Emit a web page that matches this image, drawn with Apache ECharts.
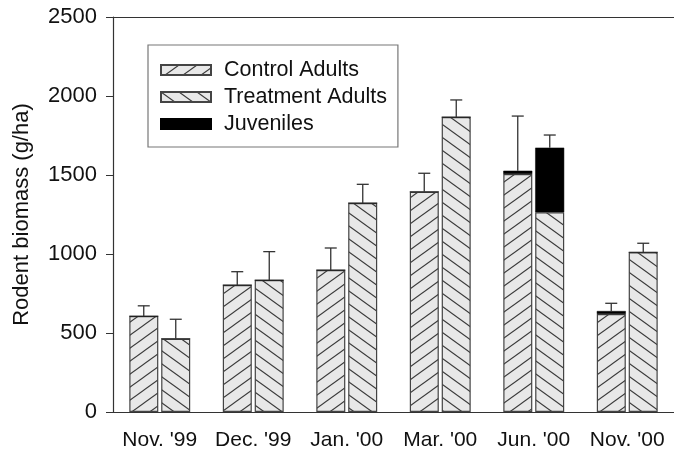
<!DOCTYPE html>
<html>
<head>
<meta charset="utf-8">
<script src="https://cdn.jsdelivr.net/npm/echarts@6/dist/echarts.min.js"></script>
<style>
html,body{margin:0;padding:0;background:#fff;}
#chart{width:674px;height:452px;}
</style>
</head>
<body>
<div id="chart"></div>
<script>
var categories = ["Nov. '99", "Dec. '99", "Jan. '00", "Mar. '00", "Jun. '00", "Nov. '00"];
var controlAdults = [607, 804, 899, 1394, 1506, 620];
var controlJuveniles = [0, 0, 0, 0, 21, 19];
var treatmentAdults = [464, 835, 1323, 1867, 1264, 1011];
var treatmentJuveniles = [0, 0, 0, 0, 409, 0];
var controlErrTop = [672, 888, 1038, 1511, 1873, 688];
var treatmentErrTop = [587, 1015, 1441, 1975, 1753, 1068];
var yTicks = [0, 500, 1000, 1500, 2000, 2500];

function makePattern(dir) {
  var w = 18, h = 13;
  var c = document.createElement('canvas');
  c.width = w; c.height = h;
  var ctx = c.getContext('2d');
  ctx.fillStyle = '#e8e8e8';
  ctx.fillRect(0, 0, w, h);
  ctx.strokeStyle = '#3a3a3a';
  ctx.lineWidth = 1.1;
  for (var k = -1; k <= 2; k++) {
    ctx.beginPath();
    if (dir === 'up') {
      ctx.moveTo(-2, k * h + 2 * h / w);
      ctx.lineTo(w + 2, k * h - h - 2 * h / w);
    } else {
      ctx.moveTo(-2, k * h - 2 * h / w);
      ctx.lineTo(w + 2, k * h + h + 2 * h / w);
    }
    ctx.stroke();
  }
  return c;
}
var patUp = makePattern('up');
var patDown = makePattern('down');

var chart = echarts.init(document.getElementById('chart'));
var FONT = 'Liberation Sans, Arial, sans-serif';
var OFF = 16;

function errSeries(tops, errTops, side) {
  var data = tops.map(function (t, i) { return [i, t, errTops[i]]; });
  return {
    type: 'custom',
    silent: true,
    z: 5,
    data: data,
    renderItem: function (params, api) {
      var p0 = api.coord([api.value(0), api.value(1)]);
      var p1 = api.coord([api.value(0), api.value(2)]);
      var x = p0[0] + side * OFF;
      var st = { stroke: '#333', lineWidth: 1.3 };
      return {
        type: 'group',
        children: [
          { type: 'line', shape: { x1: x, y1: p0[1], x2: x, y2: p1[1] }, style: st },
          { type: 'line', shape: { x1: x - 6, y1: p1[1], x2: x + 6, y2: p1[1] }, style: st }
        ]
      };
    }
  };
}

var controlTotal = controlAdults.map(function (v, i) { return v + controlJuveniles[i]; });
var treatmentTotal = treatmentAdults.map(function (v, i) { return v + treatmentJuveniles[i]; });

chart.setOption({
  animation: false,
  textStyle: { fontFamily: FONT },
  grid: { left: 113, top: 17, width: 568, height: 395 },
  legend: {
    orient: 'vertical',
    left: 148, top: 45,
    data: ['Control Adults', 'Treatment Adults', 'Juveniles'],
    itemWidth: 50, itemHeight: 10, itemGap: 5,
    padding: [14, 11, 12, 12],
    borderColor: '#777', borderWidth: 1.2,
    icon: 'rect',
    textStyle: { fontFamily: FONT, fontSize: 21.5, color: '#111', padding: [0, 0, 0, 8] },
    selectedMode: false
  },
  xAxis: [{
    type: 'category',
    data: categories,
    axisLine: { lineStyle: { color: '#333', width: 1.2 } },
    axisTick: { alignWithLabel: true, length: 5, lineStyle: { color: '#333' } },
    axisLabel: { fontFamily: FONT, fontSize: 21, color: '#111', margin: 18, interval: 0, hideOverlap: false }
  }, {
    type: 'category',
    data: categories,
    position: 'top',
    axisLine: { lineStyle: { color: '#333', width: 1.2 } },
    axisTick: { show: false },
    axisLabel: { show: false }
  }],
  yAxis: {
    type: 'value',
    min: 0, max: 2500, interval: 500,
    name: 'Rodent biomass (g/ha)',
    nameLocation: 'middle',
    nameGap: 80,
    nameTextStyle: { fontFamily: FONT, fontSize: 22, color: '#111' },
    axisLine: { show: true, lineStyle: { color: '#333', width: 1.2 } },
    axisTick: { show: true, length: 7, lineStyle: { color: '#333' } },
    axisLabel: { fontFamily: FONT, fontSize: 22, color: '#111', margin: 16,
      formatter: function (v) { return yTicks.indexOf(v) >= 0 ? String(v) : ''; } },
    splitLine: { show: false }
  },
  series: [
    { name: 'Control Adults', type: 'bar', stack: 'c', barWidth: 29, barGap: '10%',
      data: controlAdults,
      itemStyle: { color: { image: patUp, repeat: 'repeat' }, borderColor: '#444', borderWidth: 1.2 } },
    { name: 'Juveniles', type: 'bar', stack: 'c', barWidth: 29,
      data: controlJuveniles,
      itemStyle: { color: '#000', borderColor: '#000', borderWidth: 0.5 } },
    { name: 'Treatment Adults', type: 'bar', stack: 't', barWidth: 29,
      data: treatmentAdults,
      itemStyle: { color: { image: patDown, repeat: 'repeat' }, borderColor: '#444', borderWidth: 1.2 } },
    { name: 'Juveniles', type: 'bar', stack: 't', barWidth: 29,
      data: treatmentJuveniles,
      itemStyle: { color: '#000', borderColor: '#000', borderWidth: 0.5 } },
    errSeries(controlTotal, controlErrTop, -1),
    errSeries(treatmentTotal, treatmentErrTop, 1)
  ]
});
</script>
</body>
</html>
